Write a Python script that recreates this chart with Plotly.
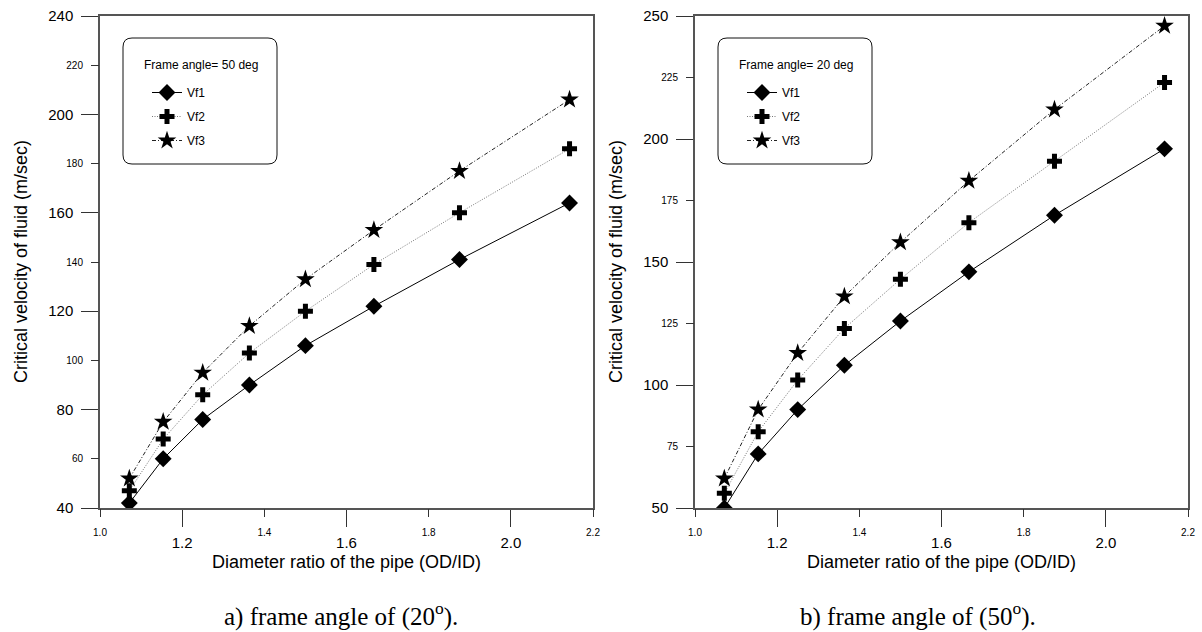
import plotly.graph_objects as go

# ---------------- data ----------------
ratio = [1.0714, 1.1538, 1.25, 1.3636, 1.5, 1.6667, 1.875, 2.1429]

a_vf1 = [42, 60, 76, 90, 106, 122, 141, 164]
a_vf2 = [47, 68, 86, 103, 120, 139, 160, 186]
a_vf3 = [52, 75, 95, 114, 133, 153, 177, 206]

b_vf1 = [50, 72, 90, 108, 126, 146, 169, 196]
b_vf2 = [56, 81, 102, 123, 143, 166, 191, 223]
b_vf3 = [62, 90, 113, 136, 158, 183, 212, 246]

series_names = ["Vf1", "Vf2", "Vf3"]
legend_titles = ["Frame angle= 50 deg", "Frame angle= 20 deg"]
captions = ["a) frame angle of (20<sup>o</sup>).", "b) frame angle of (50<sup>o</sup>)."]

x_major = [1.2, 1.6, 2.0]
x_minor = [1.0, 1.4, 1.8, 2.2]
a_y_major = [40, 80, 120, 160, 200, 240]
a_y_minor = [60, 100, 140, 180, 220]
b_y_major = [50, 100, 150, 200, 250]
b_y_minor = [75, 125, 175, 225]

x_title = "Diameter ratio of the pipe (OD/ID)"
y_title = "Critical velocity of fluid (m/sec)"

# ---------------- styling ----------------
W, H = 1202, 632
SANS = "Arial, 'Liberation Sans', sans-serif"
SERIF = "'Times New Roman', 'Liberation Serif', serif"
AX = "#555555"

styles = [
    dict(symbol="diamond", size=13, dash="solid", lc="#000000"),
    dict(symbol="cross", size=12.5, dash="1px,1.5px", lc="#777777"),
    dict(symbol="star", size=14, dash="4px,2px,1px,2px", lc="#222222"),
]

def px_x(p):
    return p / W

def px_y(p):
    return 1 - p / H

fig = go.Figure()

panels = [
    dict(xa="x", ya="y", xm="x3", ym="y3", data=[a_vf1, a_vf2, a_vf3], legend="legend",
         ymaj=a_y_major, ymin=a_y_minor, yr=[40, 240], x0=100, x1=593, grp="a"),
    dict(xa="x2", ya="y2", xm="x4", ym="y4", data=[b_vf1, b_vf2, b_vf3], legend="legend2",
         ymaj=b_y_major, ymin=b_y_minor, yr=[50, 250], x0=695, x1=1188, grp="b"),
]

top_px, bot_px = 16, 508

for p in panels:
    for name, vals, st in zip(series_names, p["data"], styles):
        fig.add_trace(go.Scatter(
            x=ratio, y=vals, name=name, mode="lines+markers",
            xaxis=p["xa"], yaxis=p["ya"], legend=p["legend"],
            legendgroup=p["grp"] + name,
            line=dict(color=st["lc"], width=1, dash=st["dash"]),
            marker=dict(symbol=st["symbol"], size=st["size"], color="black",
                        line=dict(width=0)),
        ))

layout = dict(
    width=W, height=H, margin=dict(l=0, r=0, t=0, b=0, autoexpand=False),
    paper_bgcolor="white", plot_bgcolor="white",
    font=dict(family=SANS, color="black"),
    showlegend=True,
)

common = dict(showgrid=False, zeroline=False, automargin=False, ticks="outside",
              tickwidth=1, tickcolor="#333", tickmode="array")

for i, p in enumerate(panels):
    dom_x = [px_x(p["x0"]), px_x(p["x1"])]
    dom_y = [px_y(bot_px), px_y(top_px)]
    xk = "xaxis" if p["xa"] == "x" else "xaxis2"
    yk = "yaxis" if p["ya"] == "y" else "yaxis2"
    xmk = "xaxis3" if p["xm"] == "x3" else "xaxis4"
    ymk = "yaxis3" if p["ym"] == "y3" else "yaxis4"
    layout[xk] = dict(domain=dom_x, anchor=p["ya"], range=[1.0, 2.2],
                      tickvals=x_major, ticktext=[f"{v:.1f}" for v in x_major],
                      ticklen=17, tickfont=dict(size=15), ticklabelstandoff=3,
                      showline=True, linecolor=AX, linewidth=1.5, mirror=True, **common)
    layout[yk] = dict(domain=dom_y, anchor=p["xa"], range=p["yr"],
                      tickvals=p["ymaj"], ticktext=[str(v) for v in p["ymaj"]],
                      ticklen=17, tickfont=dict(size=15), ticklabelstandoff=5,
                      showline=True, linecolor=AX, linewidth=1.5, mirror=True, **common)
    layout[xmk] = dict(overlaying=p["xa"], anchor=p["ya"], side="bottom", range=[1.0, 2.2],
                       tickvals=x_minor, ticktext=[f"{v:.1f}" for v in x_minor],
                       ticklen=8, tickfont=dict(size=10), ticklabelstandoff=7,
                       showline=False, **common)
    layout[ymk] = dict(overlaying=p["ya"], anchor=p["xa"], side="left", range=p["yr"],
                       tickvals=p["ymin"], ticktext=[str(v) for v in p["ymin"]],
                       ticklen=8, tickfont=dict(size=10), ticklabelstandoff=6,
                       showline=False, **common)
    layout[p["legend"]] = dict(
        x=px_x(p["x0"] + 47), y=px_y(78), xanchor="left", yanchor="top",
        bgcolor="rgba(0,0,0,0)", borderwidth=0,
        font=dict(size=12, family=SANS), tracegroupgap=5,
    )

fig.update_layout(**layout)

# empty traces so overlay axes get drawn
for p in panels:
    fig.add_trace(go.Scatter(x=[], y=[], xaxis=p["xm"], yaxis=p["ym"], showlegend=False,
                             hoverinfo="skip"))

# rounded legend boxes
def rounded_box(x0, y0, x1, y1, r=9):
    X = lambda v: px_x(v)
    Y = lambda v: px_y(v)
    return (f"M {X(x0 + r)} {Y(y0)} L {X(x1 - r)} {Y(y0)} Q {X(x1)} {Y(y0)} {X(x1)} {Y(y0 + r)} "
            f"L {X(x1)} {Y(y1 - r)} Q {X(x1)} {Y(y1)} {X(x1 - r)} {Y(y1)} "
            f"L {X(x0 + r)} {Y(y1)} Q {X(x0)} {Y(y1)} {X(x0)} {Y(y1 - r)} "
            f"L {X(x0)} {Y(y0 + r)} Q {X(x0)} {Y(y0)} {X(x0 + r)} {Y(y0)} Z")

for i, p in enumerate(panels):
    fig.add_shape(type="path", xref="paper", yref="paper",
                  path=rounded_box(p["x0"] + 23, 38, p["x0"] + 177, 164),
                  line=dict(color="#111", width=1), layer="above")
    fig.add_annotation(text=legend_titles[i], xref="paper", yref="paper",
                       x=px_x(p["x0"] + 42), y=px_y(65), xanchor="left", yanchor="middle",
                       showarrow=False, font=dict(size=12, family=SANS))

# axis titles and captions
for i, p in enumerate(panels):
    cx = (p["x0"] + p["x1"]) / 2
    fig.add_annotation(text=x_title, xref="paper", yref="paper", x=px_x(cx), y=px_y(562),
                       xanchor="center", yanchor="middle", showarrow=False,
                       font=dict(size=18, family=SANS))
    fig.add_annotation(text=y_title, xref="paper", yref="paper", x=px_x(p["x0"] - 79),
                       y=px_y(262), textangle=-90, xanchor="center", yanchor="middle",
                       showarrow=False, font=dict(size=18, family=SANS))
    fig.add_annotation(text=captions[i], xref="paper", yref="paper",
                       x=px_x(cx - 6 if i == 0 else cx - 24), y=px_y(614),
                       xanchor="center", yanchor="middle", showarrow=False, borderpad=0,
                       font=dict(size=25, family=SERIF))

fig.write_html("out.html", config={"displayModeBar": False},
               post_script="document.body.style.margin='0px';document.body.style.overflow='hidden';")
